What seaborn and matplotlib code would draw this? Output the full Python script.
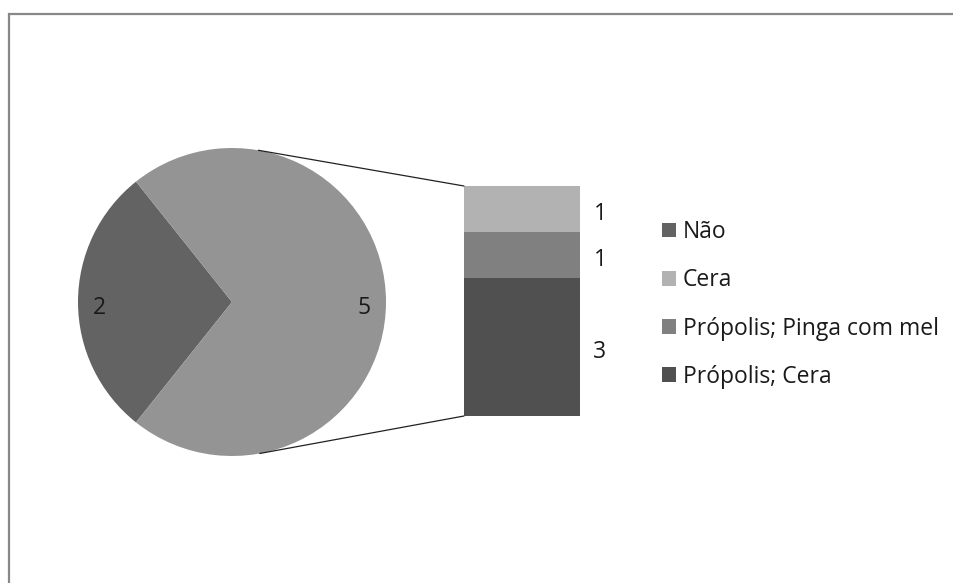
import numpy as np
import matplotlib
matplotlib.use("Agg")
import matplotlib.pyplot as plt
from matplotlib.patches import Patch, Rectangle
from matplotlib.lines import Line2D
import seaborn as sns

# Main pie: "Não" against the group of remaining answers
pie_labels = ["Não", "Outros"]
pie_values = [2, 5]
pie_colors = ["#636363", "#949494"]

# Breakdown of the grouped slice (bottom to top of the stacked bar)
bar_labels = ["Própolis; Cera", "Própolis; Pinga com mel", "Cera"]
bar_values = [3, 1, 1]
bar_colors = ["#505050", "#808080", "#b2b2b2"]

# Legend order
legend_labels = ["Não", "Cera", "Própolis; Pinga com mel", "Própolis; Cera"]
legend_colors = ["#636363", "#b2b2b2", "#808080", "#505050"]

sns.set_theme(style="white")
plt.rcParams["font.family"] = ["Open Sans", "DejaVu Sans"]
FS = 16.5
TXT = "#1a1a1a"

W, H = 954, 583
fig = plt.figure(figsize=(W / 100, H / 100), dpi=100)
fig.patch.set_facecolor("white")


def px_axes(left, top, right, bottom):
    return fig.add_axes([left / W, 1 - bottom / H, (right - left) / W, (bottom - top) / H])


# Chart frame (only the top and left edges fall inside the image)
fig.add_artist(Rectangle((9 / W, -0.1), 1.2, 1 - 14 / H + 0.1, transform=fig.transFigure,
                         fill=False, edgecolor="#888888", linewidth=1.6))

# Pie
ax_pie = px_axes(78, 148, 386, 456)
start = 180 - pie_values[0] / sum(pie_values) * 180
wedges, texts = ax_pie.pie(pie_values, colors=pie_colors, startangle=start,
                           labels=[str(v) for v in pie_values], labeldistance=0.86,
                           wedgeprops=dict(linewidth=0),
                           textprops=dict(fontsize=FS, color=TXT, ha="center", va="center"))
for t in texts:
    x, y = t.get_position()
    t.set_position((x, y - 0.04))
ax_pie.set_xlim(-1, 1)
ax_pie.set_ylim(-1, 1)
ax_pie.axis("off")

# Stacked bar for the grouped slice
ax_bar = px_axes(464, 186, 580, 416)
bottoms = np.concatenate([[0], np.cumsum(bar_values)[:-1]])
for v, b, c in zip(bar_values, bottoms, bar_colors):
    ax_bar.bar(0, v, bottom=b, width=1, color=c, linewidth=0)
    ax_bar.annotate(str(v), xy=(0.5, b + v / 2), xytext=(20, -5), textcoords="offset pixels",
                    ha="center", va="center", fontsize=FS, color=TXT,
                    annotation_clip=False)
ax_bar.set_xlim(-0.5, 0.5)
ax_bar.set_ylim(0, sum(bar_values))
ax_bar.axis("off")

# Connector lines: tangents from the bar's left corners to the pie
fig.canvas.draw()
c = ax_pie.transData.transform((0, 0))
r = ax_pie.transData.transform((1, 0))[0] - c[0]
inv = fig.transFigure.inverted()
for yv, sign in [(sum(bar_values), 1), (0, -1)]:
    p = ax_bar.transData.transform((-0.5, yv))
    d = p - c
    base = np.arctan2(d[1], d[0])
    ang = base + sign * np.arccos(r / np.hypot(*d))
    t = c + r * np.array([np.cos(ang), np.sin(ang)])
    a, b = inv.transform(t), inv.transform(p)
    fig.add_artist(Line2D([a[0], b[0]], [a[1], b[1]], transform=fig.transFigure,
                          color="#222222", linewidth=0.9))

# Legend
handles = [Patch(facecolor=col, edgecolor="none") for col in legend_colors]
fig.legend(handles, legend_labels, loc="upper left",
           bbox_to_anchor=(662 / W, 1 - 220 / H), frameon=False, labelcolor=TXT,
           fontsize=FS, handlelength=0.61, handleheight=0.61, handletextpad=0.3,
           labelspacing=1.06, borderaxespad=0, borderpad=0)

fig.savefig("out.png", dpi=100, facecolor="white")
